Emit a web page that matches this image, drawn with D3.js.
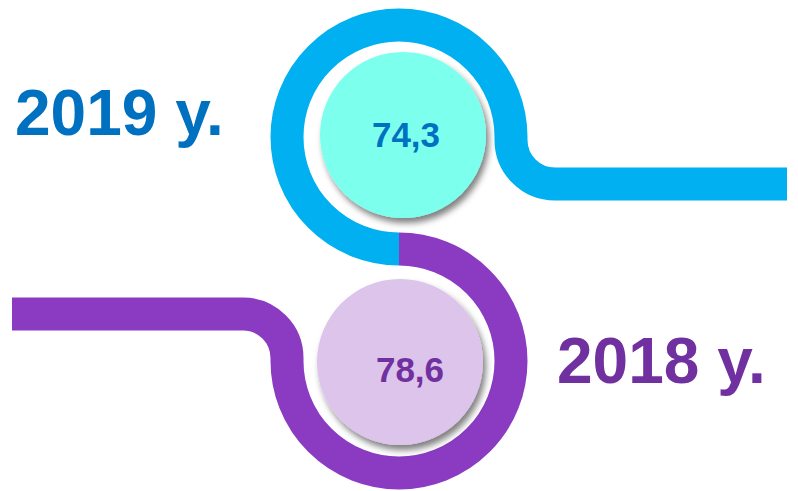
<!DOCTYPE html>
<html>
<head>
<meta charset="utf-8">
<script src="https://cdn.jsdelivr.net/npm/d3@7"></script>
<style>
  body { margin: 0; background: #fff; }
  svg { display: block; }
</style>
</head>
<body>
<div id="chart"></div>
<script>
// values shown in the circles
var years = ["2019 y.", "2018 y."];
var values = [74.3, 78.6];
var ringColors = ["#00b0f0", "#8a3bc1"];
var fillColors = ["#7dffee", "#dcc4ea"];
var textColors = ["#0070c0", "#7030a0"];

var svgWidth = 798;
var svgHeight = 491;

var svg = d3.select("#chart")
  .append("svg")
  .attr("width", svgWidth)
  .attr("height", svgHeight);

// drop shadow for the inner circles
var defs = svg.append("defs");
defs.append("filter")
  .attr("id", "shadow")
  .attr("x", "-20%").attr("y", "-20%")
  .attr("width", "150%").attr("height", "150%")
  .append("feDropShadow")
  .attr("dx", 3).attr("dy", 5)
  .attr("stdDeviation", 3)
  .attr("flood-color", "#000")
  .attr("flood-opacity", 0.5);

var fmt = d3.formatLocale({decimal: ",", thousands: " ", grouping: [3], currency: ["", ""]}).format(".1f");

// circle centres
var yScale = d3.scalePoint().domain(years).range([137, 361]);
var cx = 399;
var r = 112;        // ring centre line radius
var bend = 44;      // corner radius of the tails
var drop = 47;      // tail offset from circle centre
var xEnd = d3.scaleLinear().domain([0, 1]).range([12, 787]);

function ringPath(d, i) {
  var cy = yScale(d);
  var p = d3.path();
  if (i === 0) {
    p.moveTo(cx, cy + r);
    p.arc(cx, cy, r, Math.PI / 2, 2 * Math.PI);
    p.lineTo(cx + r, cy + drop - bend);
    p.arc(cx + r + bend, cy + drop - bend, bend, Math.PI, Math.PI / 2, true);
    p.lineTo(xEnd(1), cy + drop);
  } else {
    p.moveTo(cx, cy - r);
    p.arc(cx, cy, r, -Math.PI / 2, Math.PI);
    p.lineTo(cx - r, cy - drop + bend);
    p.arc(cx - r - bend, cy - drop + bend, bend, 0, -Math.PI / 2, true);
    p.lineTo(xEnd(0), cy - drop);
  }
  return p.toString();
}

svg.selectAll("path.ring")
  .data(years)
  .enter()
  .append("path")
  .attr("class", "ring")
  .attr("d", ringPath)
  .attr("fill", "none")
  .attr("stroke", (d, i) => ringColors[i])
  .attr("stroke-width", 33)
  .attr("stroke-linecap", "butt");

var bubbles = svg.selectAll("g.bubble")
  .data(years)
  .enter()
  .append("g")
  .attr("class", "bubble")
  .attr("transform", (d, i) => `translate(${cx + (i === 0 ? 4 : 1)}, ${yScale(d) - (i === 0 ? 2 : -1)})`);

bubbles.append("circle")
  .attr("r", 83)
  .attr("fill", (d, i) => fillColors[i])
  .attr("filter", "url(#shadow)");

bubbles.append("text")
  .attr("x", (d, i) => i === 0 ? 3 : 10)
  .attr("y", (d, i) => i === 0 ? 12 : 20)
  .attr("text-anchor", "middle")
  .style("font-family", "'Liberation Sans', Arial, sans-serif")
  .style("font-weight", "bold")
  .style("font-size", "35px")
  .attr("fill", (d, i) => textColors[i])
  .text((d, i) => fmt(values[i]));

// year labels
svg.selectAll("text.year")
  .data(years)
  .enter()
  .append("text")
  .attr("class", "year")
  .attr("x", (d, i) => i === 0 ? 15 : 557)
  .attr("y", (d, i) => i === 0 ? 135 : 383)
  .style("font-family", "'Liberation Sans', Arial, sans-serif")
  .style("font-weight", "bold")
  .style("font-size", "64px")
  .attr("fill", (d, i) => textColors[i])
  .text(d => d);
</script>
</body>
</html>
